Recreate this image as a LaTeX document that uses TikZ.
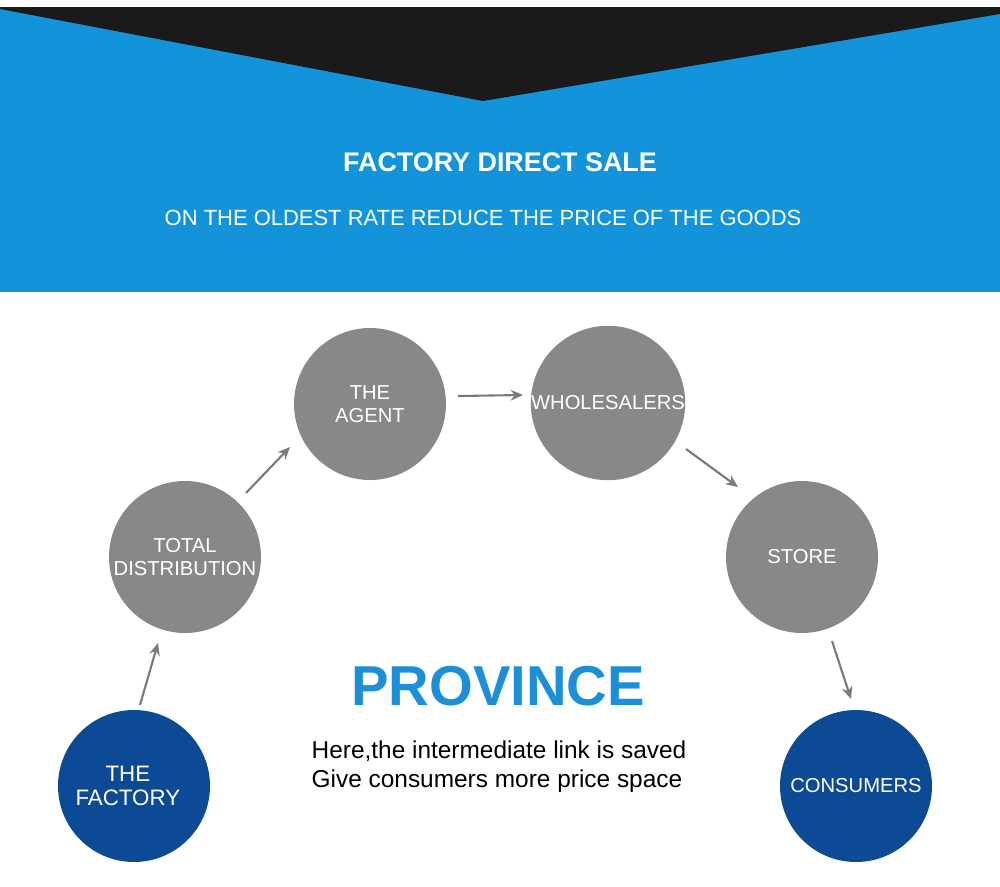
\documentclass[tikz,border=0pt]{standalone}
\usepackage{fontspec}
\setmainfont{Liberation Sans}
\usetikzlibrary{arrows.meta}
\definecolor{skyb}{HTML}{1394DA}
\definecolor{navy}{HTML}{0C4A95}
\definecolor{grayc}{HTML}{888888}
\definecolor{dark}{HTML}{1A1A1A}
\definecolor{prov}{HTML}{1C8FD8}
\begin{document}
\begin{tikzpicture}[x=0.02cm,y=-0.02cm,
 gc/.style={circle,fill=grayc,minimum size=152*0.02cm,inner sep=0pt,text=white,font=\fontsize{11.5}{13}\selectfont,align=center},
 bc/.style={gc,fill=navy},
 arr/.style={draw=grayc!90!black,line width=1.2pt,-{Stealth[length=7pt,width=6pt]}}]
\useasboundingbox (0,0) rectangle (1000,886);
\fill[white] (0,0) rectangle (1000,886);
\fill[skyb] (0,7) rectangle (1000,292);
\fill[dark] (0,7) -- (0,9) -- (483,101) -- (1000,14) -- (1000,7) -- cycle;
\node[text=white,font=\bfseries\fontsize{15.3}{17}\selectfont] (t1) at (500,162) {FACTORY DIRECT SALE};
\node[text=white,font=\fontsize{12.5}{14}\selectfont] (t2) at (483,218) {ON THE OLDEST RATE REDUCE THE PRICE OF THE GOODS};
\node[gc] (ag) at (370,404) {THE\\AGENT};
\node[gc] (wh) at (608,403) {WHOLESALERS};
\node[gc] (td) at (185,557) {TOTAL\\DISTRIBUTION};
\node[gc] (st) at (802,557) {STORE};
\node[bc,font=\fontsize{12.7}{14}\selectfont] (fa) at (134,786) {\hspace*{-7pt}THE\\\hspace*{-7pt}FACTORY};
\node[bc] (co) at (856,786) {CONSUMERS};
\node[text=prov,font=\bfseries\fontsize{32}{38}\selectfont] (pv) at (498,686) {PROVINCE};
\node[font=\fontsize{13.9}{16.5}\selectfont,align=left] (tx) at (499,767) {Here,the intermediate link is saved\\Give consumers more price space};
\coordinate (a1) at (140,705); \coordinate (b1) at (158,643);
\coordinate (a2) at (246,493); \coordinate (b2) at (290,447);
\coordinate (a3) at (458,396); \coordinate (b3) at (523,395);
\coordinate (a4) at (686,449); \coordinate (b4) at (738,487);
\coordinate (a5) at (832,641); \coordinate (b5) at (851,699);
\foreach \i in {1,...,5} \draw[arr] (a\i) -- (b\i);
\end{tikzpicture}
\end{document}
